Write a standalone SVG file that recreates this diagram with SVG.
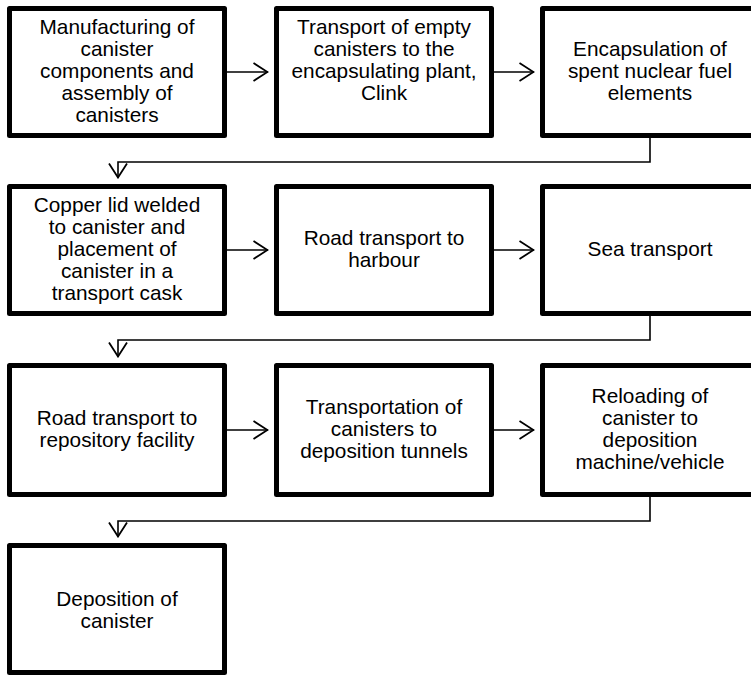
<svg xmlns="http://www.w3.org/2000/svg" width="751" height="675" viewBox="0 0 751 675">
<style>
.box{fill:#fff;stroke:#000;stroke-width:5;stroke-linejoin:round}
.t{font-family:"Liberation Sans",Arial,sans-serif;font-size:20.8px;fill:#000;text-anchor:middle}
.c{fill:none;stroke:#000;stroke-width:1.6}
</style>
<defs>
<marker id="ah" viewBox="0 0 16 20" refX="15.5" refY="10" markerWidth="16" markerHeight="20" markerUnits="userSpaceOnUse" orient="auto">
<path d="M1,1 L15,10 L1,19" fill="none" stroke="#000" stroke-width="1.8"/>
</marker>
</defs>
<rect width="751" height="675" fill="#fff"/>
<g id="connectors">
<path class="c" d="M227,72 H268" marker-end="url(#ah)"/>
<path class="c" d="M494,72 H534" marker-end="url(#ah)"/>
<path class="c" d="M650,138 V162 H118 V178" marker-end="url(#ah)"/>
<path class="c" d="M227,250 H268" marker-end="url(#ah)"/>
<path class="c" d="M494,250 H534" marker-end="url(#ah)"/>
<path class="c" d="M650,316 V340 H118 V357" marker-end="url(#ah)"/>
<path class="c" d="M227,430 H268" marker-end="url(#ah)"/>
<path class="c" d="M494,430 H534" marker-end="url(#ah)"/>
<path class="c" d="M650,497 V521 H118 V537" marker-end="url(#ah)"/>
</g>
<g id="n1"><rect class="box" x="9.5" y="8.5" width="215" height="127"/>
<text class="t"><tspan x="117" y="34">Manufacturing of</tspan><tspan x="117" y="56">canister</tspan><tspan x="117" y="78">components and</tspan><tspan x="117" y="100">assembly of</tspan><tspan x="117" y="122">canisters</tspan></text></g>
<g id="n2"><rect class="box" x="276.5" y="8.5" width="215" height="127"/>
<text class="t"><tspan x="384" y="34">Transport of empty</tspan><tspan x="384" y="56">canisters to the</tspan><tspan x="384" y="78">encapsulating plant,</tspan><tspan x="384" y="100">Clink</tspan></text></g>
<g id="n3"><rect class="box" x="542.5" y="8.5" width="215" height="127"/>
<text class="t"><tspan x="650" y="56">Encapsulation of</tspan><tspan x="650" y="78">spent nuclear fuel</tspan><tspan x="650" y="100">elements</tspan></text></g>
<g id="n4"><rect class="box" x="9.5" y="186.5" width="215" height="127"/>
<text class="t"><tspan x="117" y="212">Copper lid welded</tspan><tspan x="117" y="234">to canister and</tspan><tspan x="117" y="256">placement of</tspan><tspan x="117" y="278">canister in a</tspan><tspan x="117" y="300">transport cask</tspan></text></g>
<g id="n5"><rect class="box" x="276.5" y="186.5" width="215" height="127"/>
<text class="t"><tspan x="384" y="245">Road transport to</tspan><tspan x="384" y="267">harbour</tspan></text></g>
<g id="n6"><rect class="box" x="542.5" y="186.5" width="215" height="127"/>
<text class="t"><tspan x="650" y="256">Sea transport</tspan></text></g>
<g id="n7"><rect class="box" x="9.5" y="365.5" width="215" height="129"/>
<text class="t"><tspan x="117" y="425">Road transport to</tspan><tspan x="117" y="447">repository facility</tspan></text></g>
<g id="n8"><rect class="box" x="276.5" y="365.5" width="215" height="129"/>
<text class="t"><tspan x="384" y="414">Transportation of</tspan><tspan x="384" y="436">canisters to</tspan><tspan x="384" y="458">deposition tunnels</tspan></text></g>
<g id="n9"><rect class="box" x="542.5" y="365.5" width="215" height="129"/>
<text class="t"><tspan x="650" y="403">Reloading of</tspan><tspan x="650" y="425">canister to</tspan><tspan x="650" y="447">deposition</tspan><tspan x="650" y="469">machine/vehicle</tspan></text></g>
<g id="n10"><rect class="box" x="9.5" y="545.5" width="215" height="127"/>
<text class="t"><tspan x="117" y="606">Deposition of</tspan><tspan x="117" y="628">canister</tspan></text></g>
</svg>
